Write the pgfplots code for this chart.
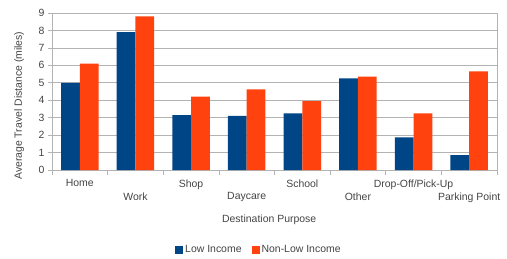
\documentclass[border=0pt]{standalone}
\usepackage{fontspec}
\setmainfont{Liberation Sans}
\usepackage{pgfplots}
\pgfplotsset{compat=1.18}
\definecolor{lowc}{HTML}{004586}
\definecolor{nonc}{HTML}{FF420E}
\definecolor{gridc}{HTML}{B3B3B3}
\definecolor{txtc}{HTML}{444444}
\begin{document}
\begin{tikzpicture}
\begin{axis}[
  name=ax,
  at={(0,0)}, anchor=south west,
  scale only axis,
  width=445bp, height=157bp,
  xmin=-0.5, xmax=7.5,
  ymin=0, ymax=9,
  ybar=0pt,
  bar width=18.7bp,
  ytick={0,1,...,9},
  ymajorgrids,
  major grid style={gridc, line width=0.6pt},
  axis line style={gridc, line width=0.6pt},
  every tick/.style={gridc, line width=0.6pt},
  tick align=outside,
  major tick length=4bp,
  minor tick length=5bp,
  xtick={0,2,4,6},
  xticklabels={Home,Shop,School,Drop-Off/Pick-Up},
  xticklabel style={yshift=-2bp},
  extra x ticks={1,3,5,7},
  extra x tick labels={Work,Daycare,Other,Parking Point},
  extra x tick style={xticklabel style={yshift=-13bp}},
  minor xtick={-0.5,0.5,...,7.5},
  major x tick style={draw=none},
  xtick pos=bottom, ytick pos=left,
  /pgf/number format/assume math mode=true,
  tick label style={font=\fontsize{10.5}{12}\selectfont, text=txtc},
  label style={font=\fontsize{10.5}{12}\selectfont, text=txtc},
  xlabel={Destination Purpose},
  xlabel style={at={(axis description cs:0.488,-0.315)}, anchor=center},
  ylabel={Average Travel Distance (miles)},
  ylabel style={at={(axis description cs:-0.074,0.41)}, anchor=center},
  legend style={at={(axis description cs:0.465,-0.51)}, anchor=center, draw=none,
    font=\fontsize{10.5}{12}\selectfont, text=txtc, legend columns=2,
    /tikz/every even column/.append style={column sep=8bp}},
  legend image code/.code={\fill[#1] (0bp,-4bp) rectangle (8bp,4bp);},
]
\addplot[fill=lowc, draw=none] coordinates {(0,5.0) (1,7.9) (2,3.15) (3,3.1) (4,3.25) (5,5.25) (6,1.87) (7,0.86)};
\addplot[fill=nonc, draw=none] coordinates {(0,6.1) (1,8.8) (2,4.2) (3,4.62) (4,3.95) (5,5.36) (6,3.25) (7,5.65)};
\legend{Low Income, Non-Low Income}
\end{axis}
\path (-52bp,-87bp) rectangle (455bp,170bp);
\end{tikzpicture}
\end{document}
